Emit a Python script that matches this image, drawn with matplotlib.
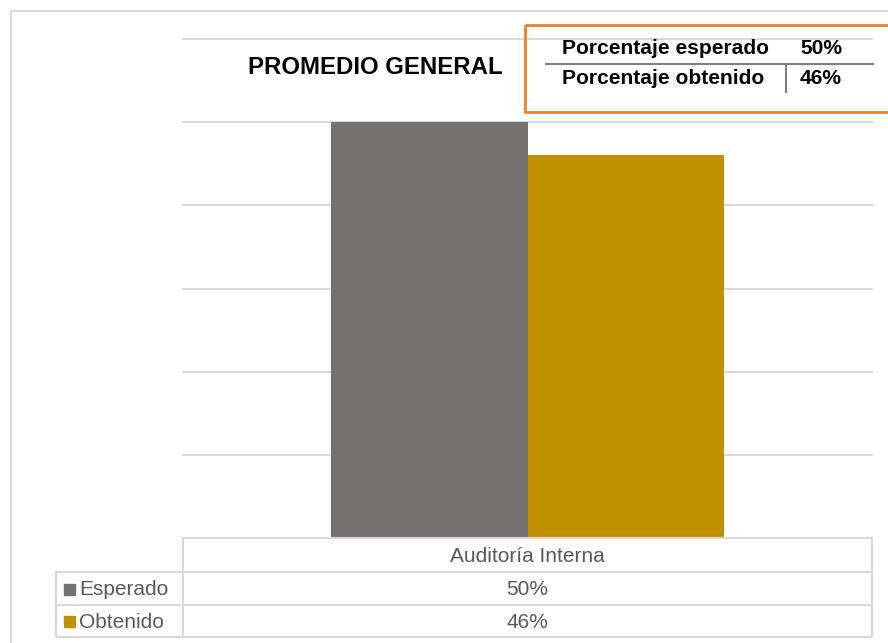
"""
Promedio general: esperado vs obtenido, con tabla de datos debajo
"""
import matplotlib
matplotlib.use("Agg")
import matplotlib.pyplot as plt
from matplotlib.patches import Rectangle

plt.rcParams['font.family'] = ['Liberation Sans', 'DejaVu Sans']

# datos
categoria = "Auditoría Interna"
series = ["Esperado", "Obtenido"]
valores = [0.50, 0.46]
colores = ["#767171", "#BF9000"]
titulo = "PROMEDIO GENERAL"
etiquetas_resumen = ["Porcentaje esperado", "Porcentaje obtenido"]
ticks_y = [0.1, 0.2, 0.3, 0.4, 0.5, 0.6]

W, H = 888, 643
fig = plt.figure(figsize=(W / 100, H / 100), dpi=100)
fig.patch.set_facecolor("white")

# zona del grafico (en pixeles)
x0, x1 = 183, 872
y_top, y_base = 39, 538
ax = fig.add_axes([x0 / W, (H - y_base) / H, (x1 - x0) / W, (y_base - y_top) / H])
ax.set_xlim(-0.5, 0.5)
ax.set_ylim(0, 0.6)
ax.axis("off")

ancho = 0.2845
for i, (s, v, c) in enumerate(zip(series, valores, colores)):
    pos = (i - 0.5) * ancho
    ax.bar(pos, v, width=ancho, color=c, zorder=3)

for t in ticks_y:
    ax.axhline(t, color="#D9D9D9", linewidth=1.5, zorder=1, clip_on=False)

# capa superior en coordenadas de pixel para tabla, cuadro y marco
ov = fig.add_axes([0, 0, 1, 1])
ov.set_xlim(0, W)
ov.set_ylim(H, 0)
ov.axis("off")
ov.patch.set_alpha(0)

gris = "#D9D9D9"
lw = 1.5
# marco exterior
ov.add_patch(Rectangle((11, 11), 900, 700, fill=False, edgecolor=gris, linewidth=lw))

# tabla de datos
filas = [538, 572, 605, 637]
ov.plot([x0, x1], [filas[0], filas[0]], color=gris, lw=lw)
for y in filas[1:]:
    ov.plot([56, x1], [y, y], color=gris, lw=lw)
ov.plot([x0, x0], [filas[0], filas[-1]], color=gris, lw=lw)
ov.plot([x1, x1], [filas[0], filas[-1]], color=gris, lw=lw)
ov.plot([56, 56], [filas[1], filas[-1]], color=gris, lw=lw)

cx = (x0 + x1) / 2
ov.text(cx, (filas[0] + filas[1]) / 2 + 1, categoria, ha="center", va="center",
        fontsize=15, color="#595959")
for i, (s, v, c) in enumerate(zip(series, valores, colores)):
    yc = (filas[i + 1] + filas[i + 2]) / 2
    ov.text(cx, yc + 1, f"{v:.0%}", ha="center", va="center", fontsize=15, color="#595959")
    ov.add_patch(Rectangle((64, yc - 5), 11, 11, color=c))
    ov.text(79, yc + 1, s, ha="left", va="center", fontsize=15, color="#595959")

# titulo
ov.text(375, 67, titulo, ha="center", va="center", fontsize=17.3,
        fontweight="bold", color="black")

# cuadro resumen
ov.add_patch(Rectangle((525, 25), 400, 87, fill=False, edgecolor="#ED7D31", linewidth=2))
ov.plot([546, 873], [64, 64], color="#7F7F7F", lw=lw)
ov.plot([786, 786], [64, 92], color="#7F7F7F", lw=lw)
for i, (lab, v) in enumerate(zip(etiquetas_resumen, valores)):
    yc = 48 + i * 31
    ov.text(562, yc, lab, ha="left", va="center", fontsize=15.1, fontweight="bold", color="black")
    ov.text(800, yc, f"{v:.0%}", ha="left", va="center", fontsize=15.1, fontweight="bold", color="black")

fig.savefig("out.png", dpi=100)
